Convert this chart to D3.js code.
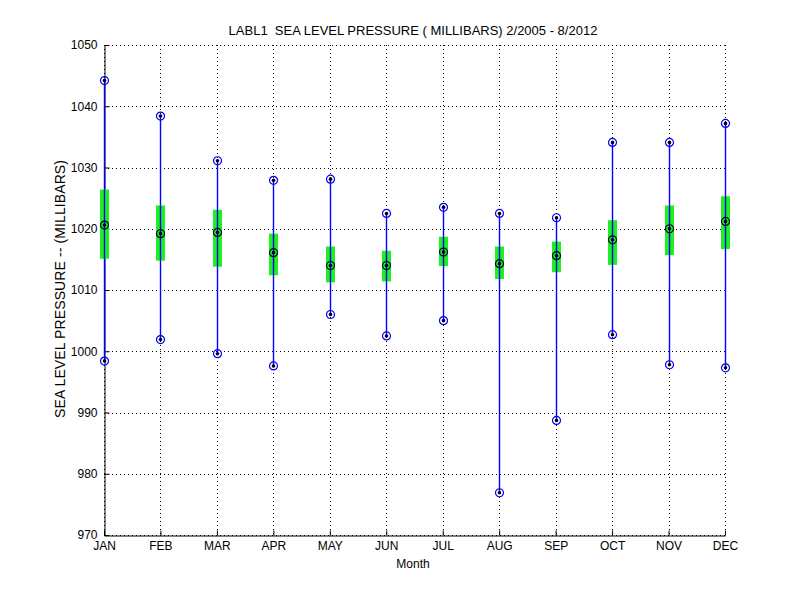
<!DOCTYPE html>
<html>
<head>
<meta charset="utf-8">
<script src="https://cdn.jsdelivr.net/npm/d3@7"></script>
<style>
  body { margin: 0; background: #fff; }
  text { font-family: "Liberation Sans", Arial, sans-serif; }
</style>
</head>
<body>
<svg id="chart" width="800" height="600"></svg>
<script>
// monthly sea level pressure stats
const months = ["JAN", "FEB", "MAR", "APR", "MAY", "JUN", "JUL", "AUG", "SEP", "OCT", "NOV", "DEC"];
const maxVals = [1044.2, 1038.4, 1031.1, 1027.9, 1028.1, 1022.5, 1023.5, 1022.5, 1021.8, 1034.1, 1034.1, 1037.2];
const minVals = [998.4, 1001.9, 999.6, 997.6, 1006.0, 1002.5, 1005.0, 976.9, 988.7, 1002.7, 997.8, 997.3];
const medians = [1020.6, 1019.2, 1019.4, 1016.1, 1014.0, 1014.0, 1016.2, 1014.3, 1015.6, 1018.2, 1020.0, 1021.2];
const boxTop = [1026.4, 1023.8, 1023.1, 1019.2, 1017.1, 1016.4, 1018.7, 1017.1, 1017.9, 1021.4, 1023.8, 1025.3];
const boxBottom = [1015.1, 1014.8, 1013.8, 1012.4, 1011.25, 1011.4, 1013.9, 1011.8, 1012.9, 1014.1, 1015.7, 1016.7];
const yTicks = [970, 980, 990, 1000, 1010, 1020, 1030, 1040, 1050];

const data = months.map((m, i) => ({
    month: m, max: maxVals[i], min: minVals[i], med: medians[i], hi: boxTop[i], lo: boxBottom[i]
}));

const plotL = 104, plotR = 725, plotT = 45, plotB = 535;
const svg = d3.select("#chart");

const x = d3.scalePoint().domain(months).range([plotL, plotR]);
const y = d3.scaleLinear().domain([970, 1050]).range([plotB, plotT]);
// snap to pixel centres so 1px lines stay crisp
const px = d => Math.round(x(d)) + 0.5;
const py = v => Math.round(y(v)) + 0.5;

// dotted grid
const grid = svg.append("g");
grid.selectAll("line.gy")
    .data(yTicks)
    .enter().append("line")
    .attr("x1", plotL).attr("x2", plotR + 1)
    .attr("y1", d => py(d)).attr("y2", d => py(d))
    .attr("stroke", "#000").attr("stroke-width", 1)
    .attr("stroke-dasharray", "1,3");
grid.selectAll("line.gx")
    .data(months)
    .enter().append("line")
    .attr("x1", d => px(d)).attr("x2", d => px(d))
    .attr("y1", plotT).attr("y2", plotB)
    .attr("stroke", "#000").attr("stroke-width", 1)
    .attr("stroke-dasharray", "1,3");

// axes (left and bottom only, ticks inward)
svg.append("g")
    .attr("transform", "translate(" + (plotL + 0.5) + ",0)")
    .call(d3.axisLeft(y).tickValues(yTicks).tickFormat(d3.format("d"))
        .tickSizeInner(-5).tickSizeOuter(0).tickPadding(7))
    .call(g => g.selectAll("text").attr("font-size", 12).attr("fill", "#000"));
svg.append("g")
    .attr("transform", "translate(0," + (plotB + 0.5) + ")")
    .call(d3.axisBottom(x).tickSizeInner(-5).tickSizeOuter(0).tickPadding(6))
    .call(g => g.selectAll("text").attr("font-size", 12).attr("fill", "#000"));
svg.selectAll(".domain").attr("stroke", "#000");
svg.selectAll(".tick line").attr("stroke", "#000");

// whiskers
const blue = "#0000ff";
svg.append("g").selectAll("line")
    .data(data)
    .enter().append("line")
    .attr("x1", d => px(d.month)).attr("x2", d => px(d.month))
    .attr("y1", d => y(d.max)).attr("y2", d => y(d.min))
    .attr("stroke", blue).attr("stroke-width", 1.4);

// boxes
svg.append("g").selectAll("rect")
    .data(data)
    .enter().append("rect")
    .attr("x", d => px(d.month) - 4.5)
    .attr("width", 9)
    .attr("y", d => y(d.hi))
    .attr("height", d => y(d.lo) - y(d.hi))
    .attr("fill", "#1ff01f");

// whisker again on top of box
svg.append("g").selectAll("line")
    .data(data)
    .enter().append("line")
    .attr("x1", d => px(d.month)).attr("x2", d => px(d.month))
    .attr("y1", d => y(d.hi)).attr("y2", d => y(d.lo))
    .attr("stroke", blue).attr("stroke-width", 1.4);

// markers: max/min blue circles, median dark circle, black centre dot
const pts = [];
data.forEach(d => {
    pts.push({ month: d.month, v: d.max, c: blue });
    pts.push({ month: d.month, v: d.min, c: blue });
    pts.push({ month: d.month, v: d.med, c: "#000033" });
});
const mk = svg.append("g").selectAll("g")
    .data(pts)
    .enter().append("g")
    .attr("transform", d => "translate(" + px(d.month) + "," + y(d.v) + ")");
mk.append("circle").attr("r", 4).attr("fill", "none").attr("stroke", d => d.c).attr("stroke-width", 1.2);
mk.append("circle").attr("r", 1.8).attr("fill", "#000");

// title and labels
svg.append("text")
    .attr("x", 413).attr("y", 35)
    .attr("text-anchor", "middle").attr("font-size", 13)
    .style("white-space", "pre")
    .text("LABL1  SEA LEVEL PRESSURE ( MILLIBARS) 2/2005 - 8/2012");
svg.append("text")
    .attr("x", 413).attr("y", 568)
    .attr("text-anchor", "middle").attr("font-size", 12)
    .text("Month");
svg.append("text")
    .attr("transform", "translate(65,289) rotate(-90)")
    .attr("text-anchor", "middle").attr("font-size", 14)
    .attr("textLength", 258).attr("lengthAdjust", "spacing")
    .text("SEA LEVEL PRESSURE -- (MILLIBARS)");
</script>
</body>
</html>
